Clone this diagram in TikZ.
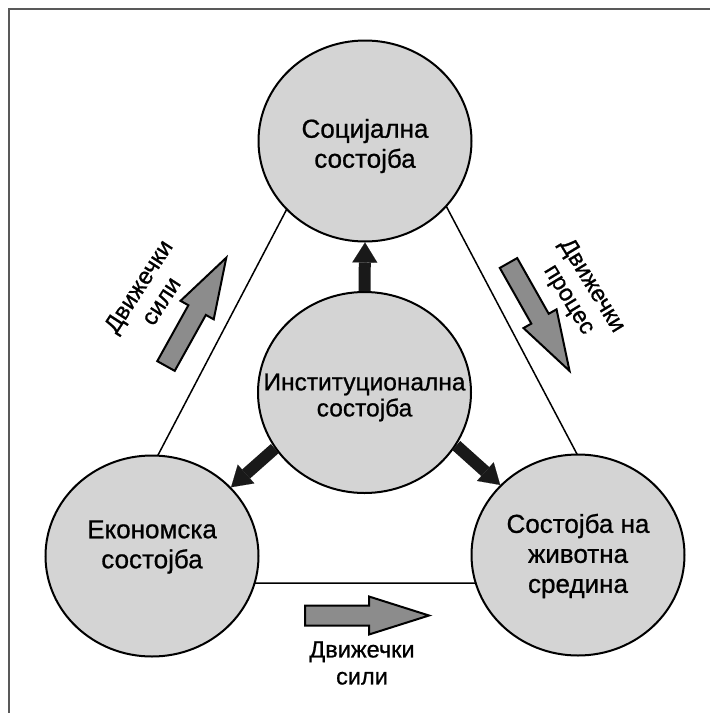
\documentclass[tikz,border=0pt]{standalone}
\usepackage{fontspec}
\setmainfont{Liberation Sans}[FakeBold=0.8]
\usetikzlibrary{arrows.meta,shapes.geometric}

\definecolor{circlefill}{gray}{0.83}
\definecolor{blockfill}{gray}{0.55}
\definecolor{inkdark}{gray}{0.1}
\definecolor{framegray}{gray}{0.35}

\tikzset{
  state/.style={ellipse, draw=black, line width=2pt, fill=circlefill,
    minimum width=213pt, minimum height=201pt, inner sep=0pt},
  statetext/.style={align=center, inner sep=0pt,
    font=\fontsize{26pt}{30pt}\selectfont},
  coretext/.style={align=center, inner sep=0pt,
    font=\fontsize{24.5pt}{26pt}\selectfont},
  drivetext/.style={align=center, inner sep=0pt,
    font=\fontsize{23.5pt}{27pt}\selectfont},
  influence/.style={draw=inkdark, line width=12pt,
    -{Triangle[length=20pt,width=25pt,line width=0.1pt]}},
  edge/.style={draw=black, line width=1.5pt},
  blockstyle/.style={draw=black, line width=2pt, fill=blockfill, line join=miter},
  pics/blockarrow/.style={code={
    \draw[blockstyle] (0,-10) -- (64,-10) -- (64,-19) -- (124,0)
      -- (64,19) -- (64,10) -- (0,10) -- cycle;
  }}
}

\begin{document}
\begin{tikzpicture}[x=1pt,y=-1pt]
  \useasboundingbox (0,0) rectangle (710,713);
  \fill[white] (0,0) rectangle (710,713);

  % frame on the top and left
  \draw[framegray, line width=2pt] (9,713) -- (9,9) -- (710,9);

  % triangle joining the three outer states
  \coordinate (tTop) at (367,56);
  \coordinate (tLeft) at (91,583);
  \coordinate (tRight) at (645,583);
  \draw[edge] (tTop) -- (tLeft) -- (tRight) -- cycle;

  % states
  \node[state] (soc) at (365,141) {};
  \node[state] (inst) at (364.5,392.5) {};
  \node[state] (eco) at (152,556) {};
  \node[state] (env) at (578,555) {};

  \node[statetext] (socT) at (365,146) {Социјална\\состојба};
  \node[coretext] (instT) at (364.5,397.5) {Институционална\\состојба};
  \node[statetext] (ecoT) at (152,547) {Економска\\состојба};
  \node[statetext] (envT) at (578,556) {Состојба на\\животна\\средина};

  % influence of the institutional state
  \draw[influence] (inst.north) -- (soc.south);
  \draw[influence] (inst.-148) -- (eco.41);
  \draw[influence] (inst.-30) -- (env.138);

  % driving arrows along the triangle
  \pic[rotate=60.9] at (166,366) {blockarrow};
  \pic[rotate=-60.5] at (508.5,263) {blockarrow};
  \pic at (305,615.5) {blockarrow};

  \node[drivetext, rotate=57] (driveL) at (149.5,293.5) {Движечки\\сили};
  \node[drivetext, rotate=-58.6] (driveR) at (580,293) {Движечки\\процес};
  \node[drivetext] (driveB) at (362,663) {Движечки\\сили};
\end{tikzpicture}
\end{document}
